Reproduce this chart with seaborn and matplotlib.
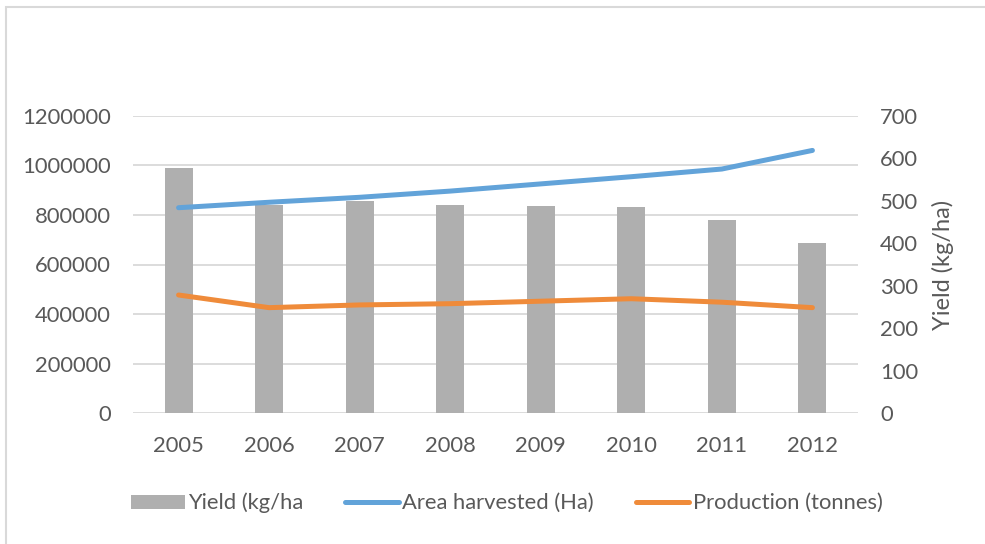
import matplotlib
matplotlib.use("Agg")
import matplotlib.pyplot as plt
import seaborn as sns
import pandas as pd
import numpy as np
from matplotlib.patches import Patch
from matplotlib.lines import Line2D

years = ["2005", "2006", "2007", "2008", "2009", "2010", "2011", "2012"]
yield_kg_ha = [578, 490, 500, 490, 488, 485, 455, 401]
area_harvested = [829000, 851000, 871000, 896000, 925000, 954000, 985000, 1060000]
production = [477000, 426000, 437000, 442000, 452000, 462000, 448000, 426000]

left_ticks = [0, 200000, 400000, 600000, 800000, 1000000, 1200000]
right_ticks = [0, 100, 200, 300, 400, 500, 600, 700]

df = pd.DataFrame({"Year": years, "Yield": yield_kg_ha,
                   "Area": area_harvested, "Production": production})

sns.set_theme(style="white")
plt.rcParams["font.family"] = ["Lato", "DejaVu Sans"]

TXT = "#595959"
GRID = "#D9D9D9"
BAR = "#AFAFAF"
BLUE = "#62A3D9"
ORANGE = "#EF8B3A"
FS = 15.8

fig = plt.figure(figsize=(9.85, 5.44), dpi=100)
ax = fig.add_axes([133.3/985, 1-413.3/544, (857.7-133.3)/985, (413.3-115.7)/544])
ax2 = ax.twinx()

# bars on secondary axis, drawn behind
sns.barplot(data=df, x="Year", y="Yield", ax=ax2, color=BAR, width=0.31,
            saturation=1, edgecolor="none")
ax2.set_ylim(0, 700)
ax2.set_yticks(right_ticks)
# gridlines of primary axis, drawn on the back axis
for t in left_ticks:
    ax2.axhline(t / left_ticks[-1] * 700, color=GRID, lw=1.3, zorder=0)

sns.lineplot(data=df, x="Year", y="Area", ax=ax, color=BLUE, lw=3.6,
             solid_capstyle="round", sort=False)
sns.lineplot(data=df, x="Year", y="Production", ax=ax, color=ORANGE, lw=3.6,
             solid_capstyle="round", sort=False)
ax.set_ylim(0, 1200000)
ax.set_yticks(left_ticks)
ax.set_yticklabels([str(t) for t in left_ticks])
ax.set_xlim(-0.5, 7.5)
ax2.set_xlim(-0.5, 7.5)

ax.set_zorder(ax2.get_zorder() + 1)
ax.patch.set_visible(False)

for a in (ax, ax2):
    for s in a.spines.values():
        s.set_visible(False)
    a.grid(False)
    a.tick_params(length=0, labelsize=FS, labelcolor=TXT)
ax.tick_params(axis="y", pad=16)
ax.tick_params(axis="x", pad=16)
ax2.tick_params(axis="y", pad=16)
ax.set_xlabel("")
ax.set_ylabel("")
ax2.set_xlabel("")
ax2.set_ylabel("Yield (kg/ha)", fontsize=17, color=TXT, labelpad=10)

handles = [Patch(facecolor=BAR, edgecolor="none"),
           Line2D([0], [0], color=BLUE, lw=3.6, solid_capstyle="round"),
           Line2D([0], [0], color=ORANGE, lw=3.6, solid_capstyle="round")]
labels = ["Yield (kg/ha", "Area harvested (Ha)", "Production (tonnes)"]
leg = fig.legend(handles, labels, loc="center", bbox_to_anchor=(507/985, 1-503/544),
                 ncol=3, frameon=False, fontsize=FS, handlelength=2.45,
                 handleheight=0.6, handletextpad=0.15, columnspacing=1.9)
for t in leg.get_texts():
    t.set_color(TXT)

# outer frame (left and top edges visible)
fig.add_artist(plt.Rectangle((6/985, -0.05), 1.05, 1 - 6.5/544 + 0.05,
                             transform=fig.transFigure, fill=False,
                             edgecolor="#D9D9D9", lw=1.5))

fig.savefig("out.png", dpi=100)
